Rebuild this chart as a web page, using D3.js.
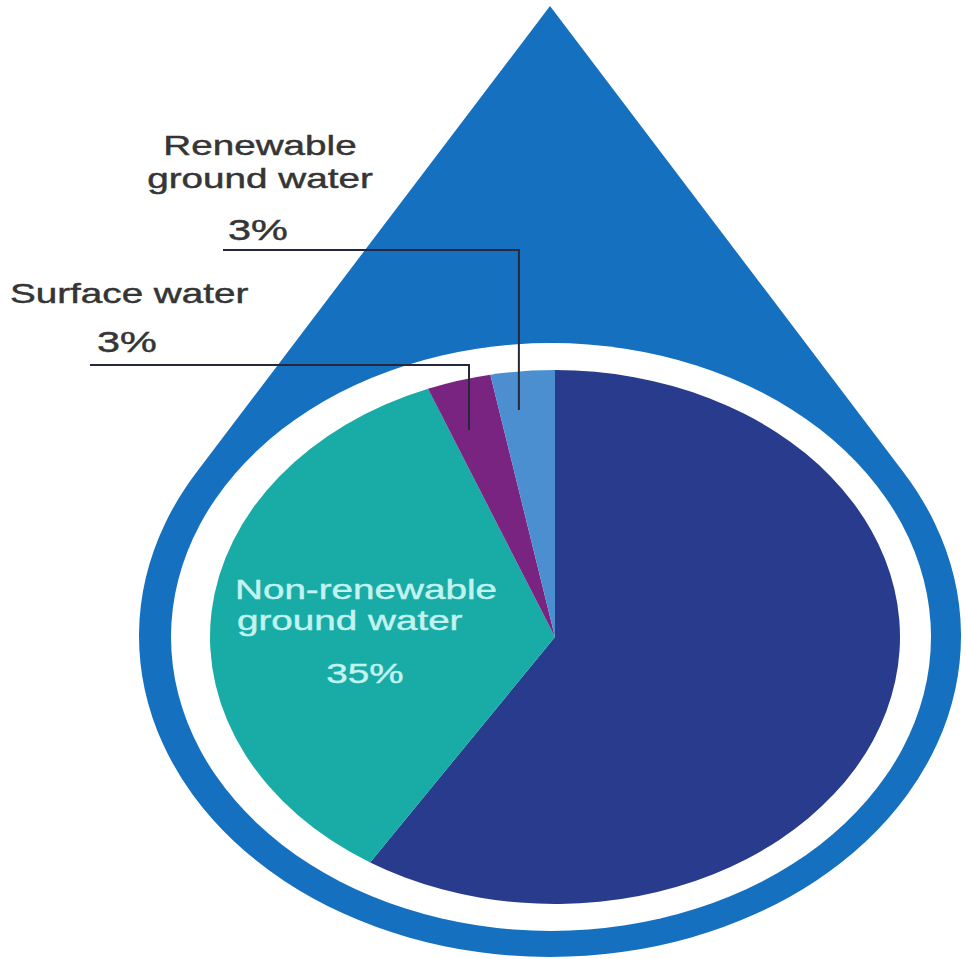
<!DOCTYPE html>
<html>
<head>
<meta charset="utf-8">
<script src="https://cdn.jsdelivr.net/npm/d3@7"></script>
<style>
  html, body { margin: 0; padding: 0; background: #ffffff; }
  svg { display: block; }
  text { font-family: "Liberation Sans", Arial, sans-serif; }
</style>
</head>
<body>
<div id="chart"></div>
<script>
// Sources of water, share of total (%)
const categories = ["Other sources", "Non-renewable ground water", "Surface water", "Renewable ground water"];
const shares = [59, 35, 3, 3];
const sliceColors = ["#283b8c", "#19aba6", "#7a2481", "#4b8fd1"];

const width = 966, height = 959;

// Drop and pie layout
const cx = 555, cy = 637;
const pieRx = 345, pieRy = 267;
const gapRx = 380, gapRy = 294;
const dropRx = 411, dropRy = 321, dropCx = 550, dropCy = 636;
const tipY = 6;
const dropBlue = "#1570bf";

const svg = d3.select("#chart").append("svg")
  .attr("width", width).attr("height", height);

// Drop outline: tangent lines from the tip to the lower ellipse
const d = (dropCy - tipY) / dropRy;
const tv = -1 / d, tu = Math.sqrt(1 - tv * tv);
const leftPt = [dropCx - tu * dropRx, dropCy + tv * dropRy];
const rightPt = [dropCx + tu * dropRx, dropCy + tv * dropRy];
svg.append("path")
  .attr("d", `M${dropCx},${tipY} L${leftPt[0]},${leftPt[1]} A${dropRx},${dropRy} 0 1 0 ${rightPt[0]},${rightPt[1]} Z`)
  .attr("fill", dropBlue);

// White ring between the drop and the pie
svg.append("ellipse")
  .attr("cx", cx - 4).attr("cy", cy)
  .attr("rx", gapRx).attr("ry", gapRy)
  .attr("fill", "#ffffff");

// Pie, drawn on a circle then stretched into an ellipse
const pie = d3.pie().sort(null).startAngle(0).endAngle(2 * Math.PI);
const arcs = pie(shares);
const arc = d3.arc().innerRadius(0).outerRadius(pieRy);

svg.append("g")
  .attr("transform", `translate(${cx},${cy}) scale(${pieRx / pieRy},1)`)
  .selectAll("path")
  .data(arcs)
  .join("path")
  .attr("d", arc)
  .attr("fill", (a, i) => sliceColors[i]);

const sx = 1.38; // horizontal stretch of the lettering
const textGray = "#353535";

function label(x, y, txt, size, anchor, color) {
  svg.append("g")
    .attr("transform", `translate(${x},${y}) scale(${sx},1)`)
    .append("text")
    .attr("text-anchor", anchor)
    .attr("font-size", size)
    .attr("fill", color)
    .attr("stroke", color)
    .attr("stroke-width", 0.45)
    .text(txt);
}

const pct = i => `${shares[i]}%`;

// Leader: horizontal rule under a label, then a drop into the slice
function leader(i, x0, yRule) {
  const a = arcs[i].startAngle + 0.35 * (arcs[i].endAngle - arcs[i].startAngle);
  const yEnd = yRule + (i === 3 ? 160 : 65);
  const xEnd = cx + pieRx * (cy - yEnd) * Math.tan(a) / pieRy;
  svg.append("path")
    .attr("d", `M${x0},${yRule} H${xEnd} V${yEnd}`)
    .attr("fill", "none")
    .attr("stroke", "#24283a")
    .attr("stroke-width", 2);
}

// Renewable ground water
label(260, 155, "Renewable", 28, "middle", textGray);
label(260, 188, "ground water", 28, "middle", textGray);
label(258, 240, pct(3), 30, "middle", textGray);
leader(3, 223, 250);

// Surface water
label(10, 303, "Surface water", 28, "start", textGray);
label(127, 352, pct(2), 30, "middle", textGray);
leader(2, 90, 365);

// Non-renewable ground water, inside its slice
const lightText = "#c2f3ef";
label(235, 599, "Non-renewable", 28, "start", lightText);
label(237, 630, "ground water", 28, "start", lightText);
label(365, 683, pct(1), 28, "middle", lightText);
</script>
</body>
</html>
